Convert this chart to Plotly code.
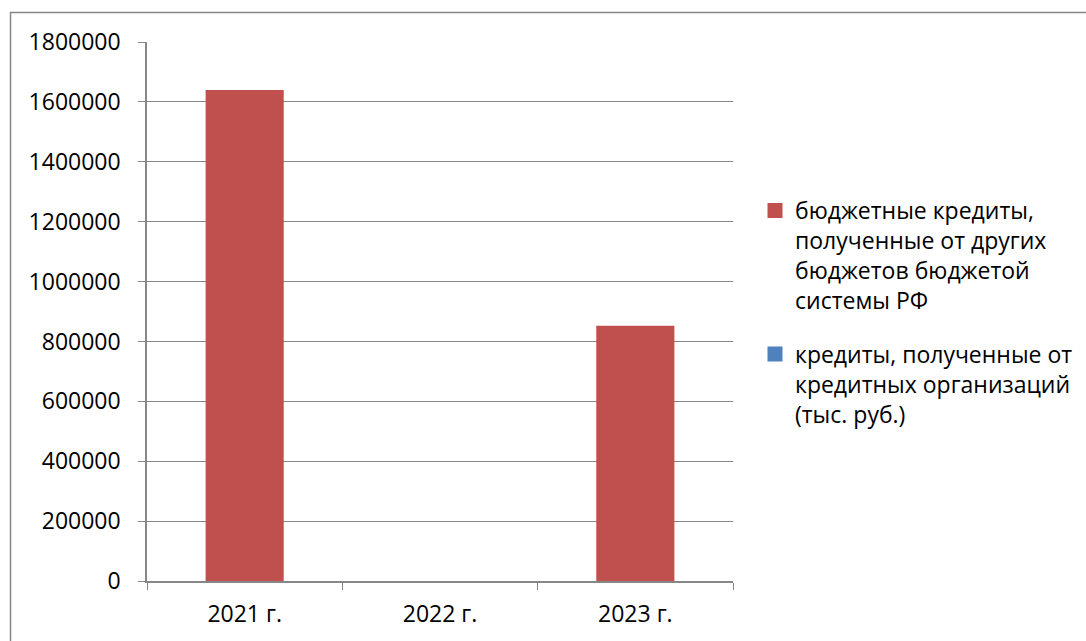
import plotly.graph_objects as go

categories = ["2021 г.", "2022 г.", "2023 г."]
budget_credits = [1640000, 0, 852000]
bank_credits = [0, 0, 0]
series_names = [
    "бюджетные кредиты,<br>полученные от других<br>бюджетов бюджетой<br>системы РФ",
    "кредиты, полученные от<br>кредитных организаций<br>(тыс. руб.)",
]
series_colors = ["#C0504D", "#4F81BD"]
y_ticks = [0, 200000, 400000, 600000, 800000, 1000000, 1200000, 1400000, 1600000, 1800000]

W, H = 1086, 641
L, R, T, B = 147, 733, 42, 581
pw, ph = R - L, B - T

def px_x(x):
    return (x - L) / pw

def px_y(y):
    return (B - y) / ph

FONT = "Open Sans"
GRID = "#868686"

fig = go.Figure()
for vals, name, col, grp in [(budget_credits, series_names[0], series_colors[0], "a"),
                             (bank_credits, series_names[1], series_colors[1], "b")]:
    fig.add_trace(go.Bar(x=categories, y=vals, name=name,
                         marker=dict(color=col, line=dict(width=0)),
                         legendgroup=grp, showlegend=False))
    # legend swatch (Excel-like larger square)
    fig.add_trace(go.Scatter(x=[None], y=[None], mode="markers", name=name,
                             marker=dict(symbol="square", size=13, color=col,
                                         line=dict(color=col, width=2)),
                             legendgroup=grp, showlegend=True, hoverinfo="skip"))

fig.update_layout(
    width=W, height=H,
    margin=dict(l=L, r=W - R, t=T, b=H - B, autoexpand=False),
    paper_bgcolor="white", plot_bgcolor="white",
    barmode="overlay", bargap=0.6,
    font=dict(family=FONT, size=23, color="black"),
    showlegend=True,
    legend=dict(x=px_x(755), xanchor="left", y=px_y(189), yanchor="top",
                font=dict(family=FONT, size=23, color="black"),
                valign="top", tracegroupgap=21, bgcolor="rgba(0,0,0,0)",
                itemclick=False),
    shapes=[dict(type="rect", xref="paper", yref="paper",
                 x0=px_x(10.5), x1=px_x(1100), y0=px_y(12.5), y1=px_y(660),
                 line=dict(color=GRID, width=1.5), fillcolor="rgba(0,0,0,0)",
                 layer="below")],
)
fig.update_xaxes(type="category", range=[-0.5, 2.5], tickson="boundaries",
                 ticks="outside", ticklen=7, tickcolor=GRID, tickwidth=1,
                 showline=True, linecolor=GRID, linewidth=1.5,
                 showgrid=False, ticklabelstandoff=12)
fig.update_yaxes(range=[0, 1800000], tickvals=y_ticks,
                 ticktext=[str(v) for v in y_ticks],
                 ticks="outside", ticklen=7, tickcolor=GRID, tickwidth=1,
                 showline=True, linecolor=GRID, linewidth=1.5,
                 showgrid=True, gridcolor=GRID, gridwidth=1.2,
                 zeroline=False, ticklabelstandoff=13)

fig.write_html("out.html")
